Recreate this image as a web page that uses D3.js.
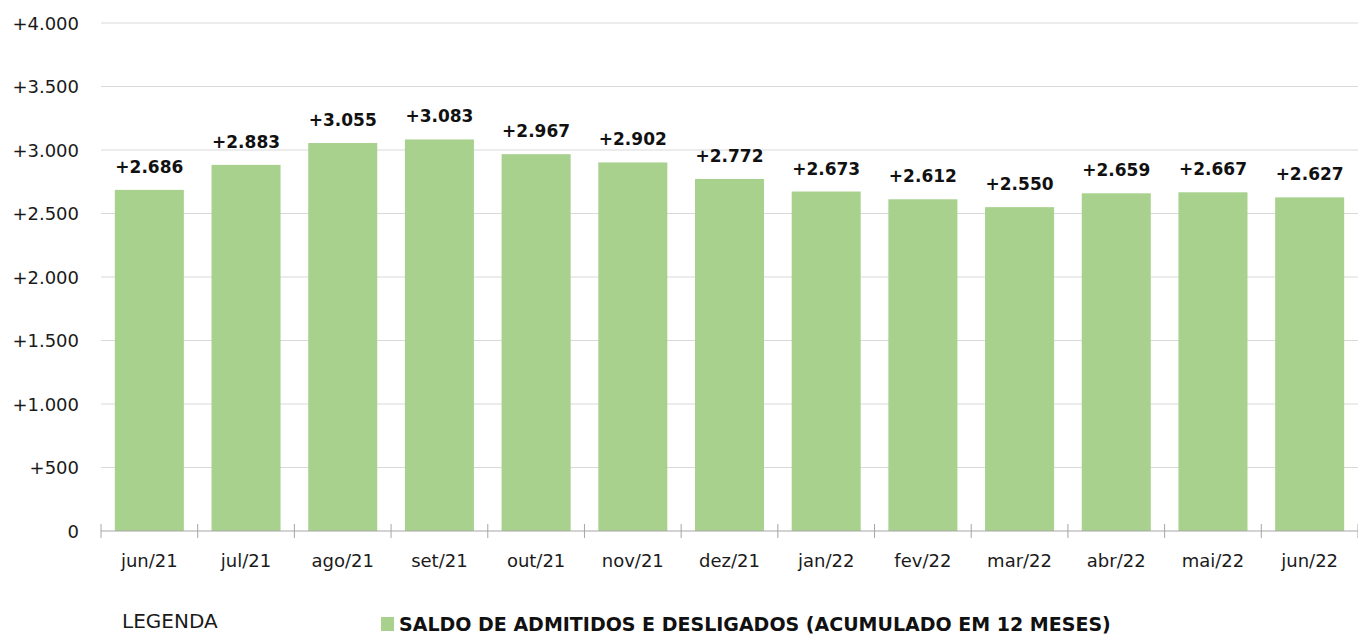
<!DOCTYPE html>
<html>
<head>
<meta charset="utf-8">
<script src="https://cdn.jsdelivr.net/npm/d3@7"></script>
<style>
  body { margin: 0; background: #fff; }
  svg { display: block; font-family: "DejaVu Sans", "Open Sans", sans-serif; }
</style>
</head>
<body>
<div id="chart"></div>
<script>
var months = ["jun/21", "jul/21", "ago/21", "set/21", "out/21", "nov/21", "dez/21",
              "jan/22", "fev/22", "mar/22", "abr/22", "mai/22", "jun/22"];
var saldo = [2686, 2883, 3055, 3083, 2967, 2902, 2772, 2673, 2612, 2550, 2659, 2667, 2627];
var yTicks = [0, 500, 1000, 1500, 2000, 2500, 3000, 3500, 4000];
var legendLabel = "SALDO DE ADMITIDOS E DESLIGADOS (ACUMULADO EM 12 MESES)";

var width = 1358, height = 634;
var margin = {top: 23, right: 0, bottom: 103, left: 101};

var svg = d3.select("#chart").append("svg")
  .attr("width", width)
  .attr("height", height);

var fmt = function(v) {
  var s = d3.format(",")(v).replace(/,/g, ".");
  return v === 0 ? "0" : "+" + s;
};

var x = d3.scaleBand()
  .domain(months)
  .range([margin.left, width - margin.right])
  .paddingInner(0.286)
  .paddingOuter(0.143);

var y = d3.scaleLinear()
  .domain([0, 4000])
  .range([height - margin.bottom, margin.top]);

// gridlines
svg.append("g")
  .selectAll("line")
  .data(yTicks.filter(d => d > 0))
  .enter().append("line")
  .attr("x1", margin.left)
  .attr("x2", width - margin.right)
  .attr("y1", d => y(d))
  .attr("y2", d => y(d))
  .style("stroke", "#d9d9d9")
  .style("stroke-width", 1);

// y labels
svg.append("g")
  .selectAll("text")
  .data(yTicks)
  .enter().append("text")
  .attr("x", 79)
  .attr("y", d => y(d))
  .attr("text-anchor", "end")
  .attr("dominant-baseline", "central")
  .style("font-size", "18px")
  .style("fill", "#1a1a1a")
  .text(fmt);

// bars
svg.append("g")
  .selectAll("rect")
  .data(saldo)
  .enter().append("rect")
  .attr("x", (d, i) => x(months[i]))
  .attr("width", x.bandwidth())
  .attr("y", d => y(d))
  .attr("height", d => y(0) - y(d))
  .style("fill", "#a9d18e");

// value labels
svg.append("g")
  .selectAll("text")
  .data(saldo)
  .enter().append("text")
  .attr("x", (d, i) => x(months[i]) + x.bandwidth() / 2)
  .attr("y", d => y(d) - 17)
  .attr("text-anchor", "middle")
  .style("font-size", "17px")
  .style("font-weight", "bold")
  .style("fill", "#111")
  .text(fmt);

// x axis
var xAxis = svg.append("g")
  .attr("transform", "translate(0," + y(0) + ")");
xAxis.append("line")
  .attr("x1", margin.left)
  .attr("x2", width - margin.right)
  .style("stroke", "#a6a6a6");
var step = x.step();
xAxis.selectAll("line.tick")
  .data(d3.range(months.length + 1))
  .enter().append("line")
  .attr("class", "tick")
  .attr("x1", i => margin.left + i * step)
  .attr("x2", i => margin.left + i * step)
  .attr("y1", -7)
  .attr("y2", 7)
  .style("stroke", "#a6a6a6");
xAxis.selectAll("text")
  .data(months)
  .enter().append("text")
  .attr("x", d => x(d) + x.bandwidth() / 2)
  .attr("y", 29)
  .attr("text-anchor", "middle")
  .attr("dominant-baseline", "central")
  .style("font-size", "18px")
  .style("fill", "#1a1a1a")
  .text(d => d);

// legend
svg.append("text")
  .attr("x", 122)
  .attr("y", 621)
  .attr("dominant-baseline", "central")
  .style("font-size", "20px")
  .style("fill", "#1a1a1a")
  .text("LEGENDA");
svg.append("rect")
  .attr("x", 381)
  .attr("y", 617)
  .attr("width", 13)
  .attr("height", 14)
  .style("fill", "#a9d18e");
svg.append("text")
  .attr("x", 399)
  .attr("y", 624)
  .attr("dominant-baseline", "central")
  .style("font-size", "19px")
  .style("font-weight", "bold")
  .style("fill", "#111")
  .text(legendLabel);
</script>
</body>
</html>
